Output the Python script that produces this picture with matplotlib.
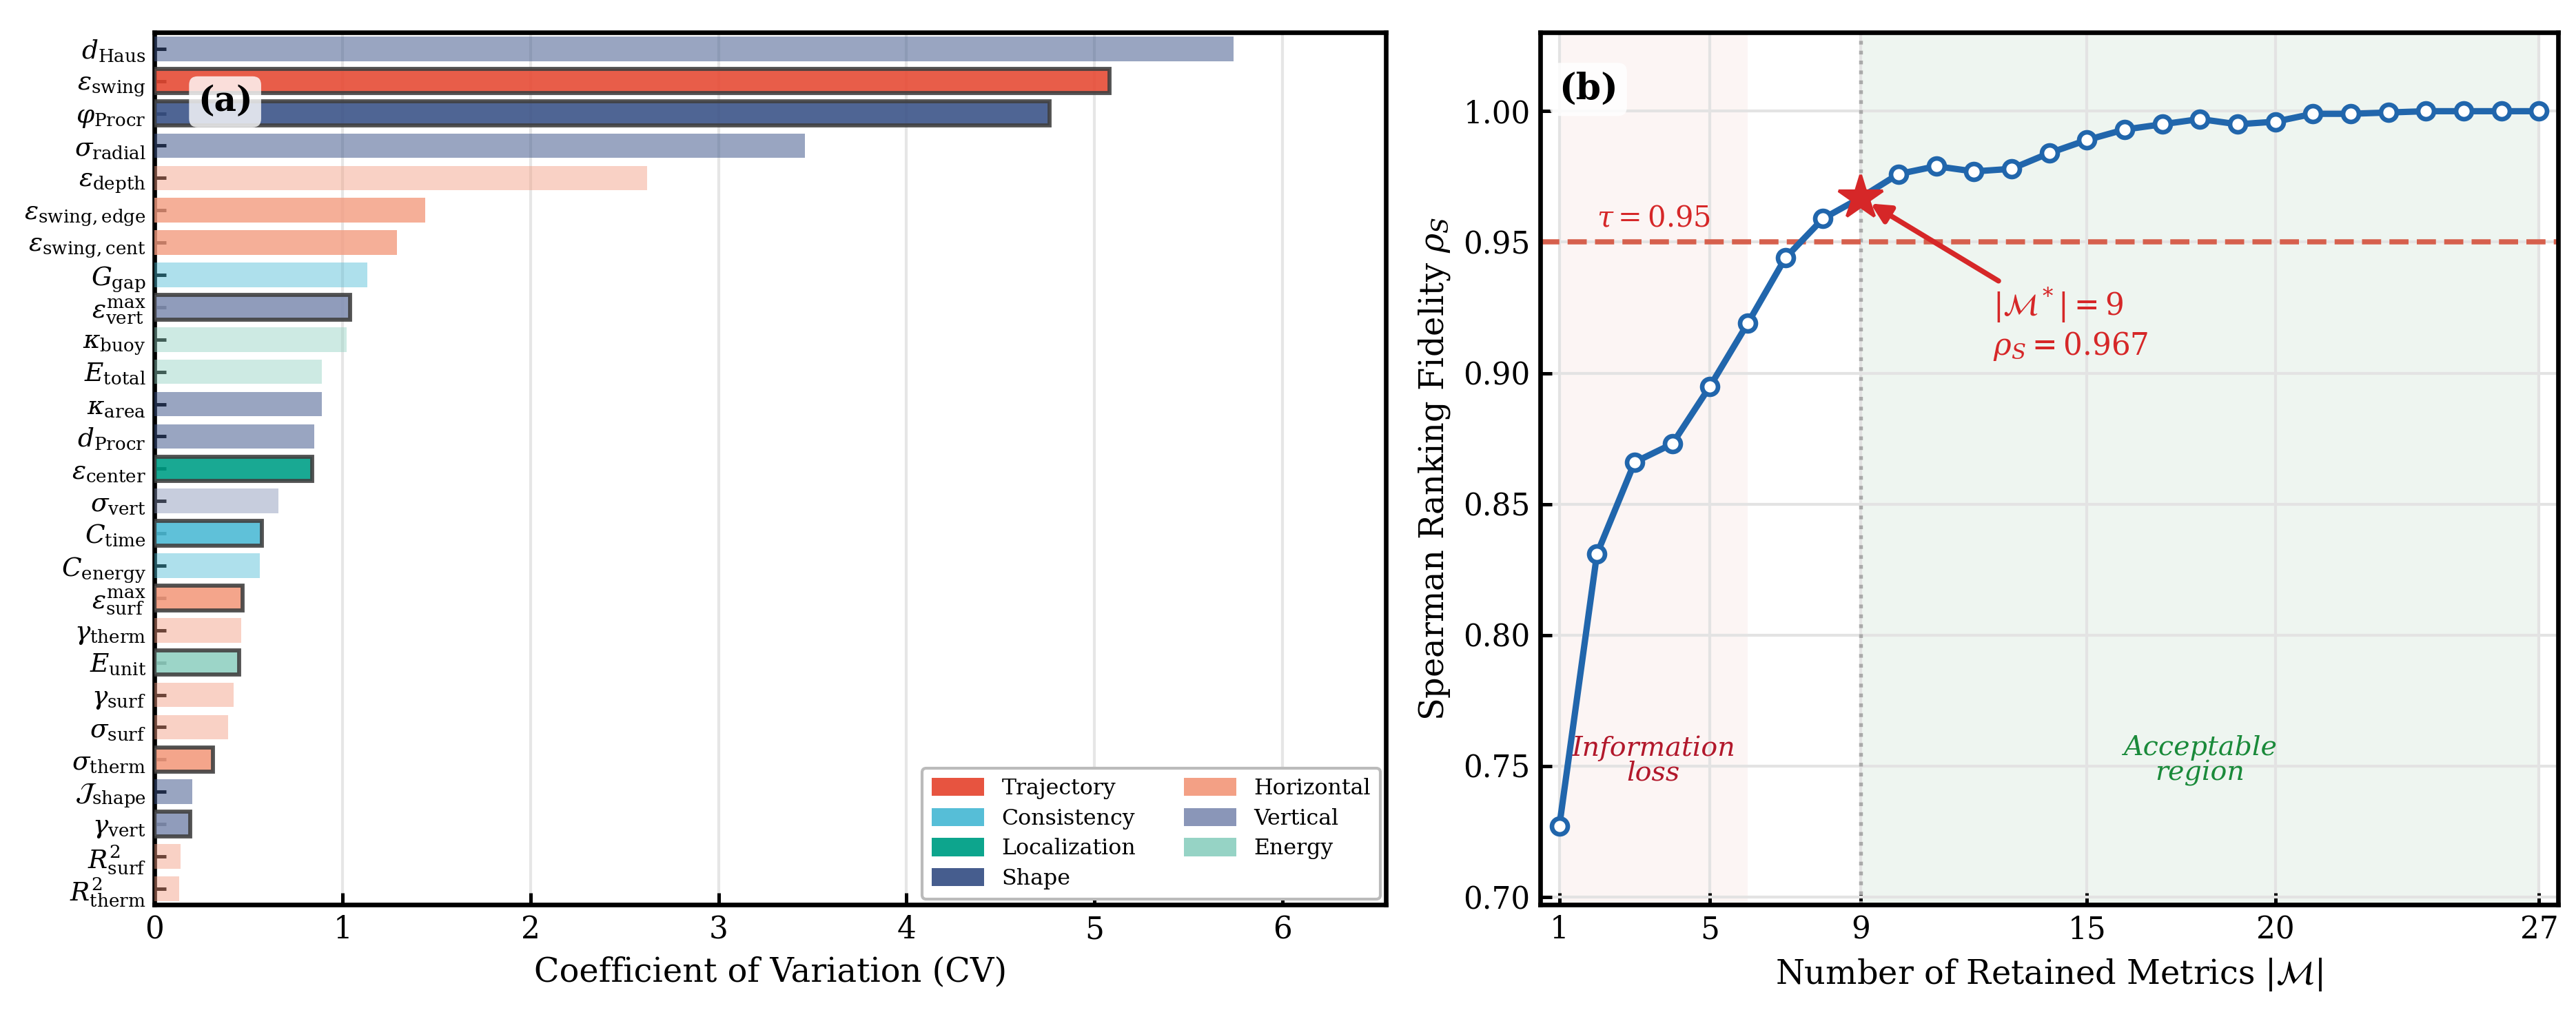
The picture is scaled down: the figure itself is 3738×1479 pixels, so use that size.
import numpy as np
import matplotlib
matplotlib.use("Agg")
import matplotlib.pyplot as plt
from matplotlib.patches import Patch

plt.rcParams['font.family'] = ['DejaVu Serif']
plt.rcParams['mathtext.fontset'] = 'dejavuserif'
plt.rcParams['axes.linewidth'] = 1.6

# ---------------- data: panel (a) ----------------
metric_labels = [
    r'$d_{\mathrm{Haus}}$', r'$\varepsilon_{\mathrm{swing}}$', r'$\varphi_{\mathrm{Procr}}$',
    r'$\sigma_{\mathrm{radial}}$', r'$\varepsilon_{\mathrm{depth}}$', r'$\varepsilon_{\mathrm{swing,edge}}$',
    r'$\varepsilon_{\mathrm{swing,cent}}$', r'$G_{\mathrm{gap}}$', r'$\varepsilon_{\mathrm{vert}}^{\mathrm{max}}$',
    r'$\kappa_{\mathrm{buoy}}$', r'$E_{\mathrm{total}}$', r'$\kappa_{\mathrm{area}}$',
    r'$d_{\mathrm{Procr}}$', r'$\varepsilon_{\mathrm{center}}$', r'$\sigma_{\mathrm{vert}}$',
    r'$C_{\mathrm{time}}$', r'$C_{\mathrm{energy}}$', r'$\varepsilon_{\mathrm{surf}}^{\mathrm{max}}$',
    r'$\gamma_{\mathrm{therm}}$', r'$E_{\mathrm{unit}}$', r'$\gamma_{\mathrm{surf}}$',
    r'$\sigma_{\mathrm{surf}}$', r'$\sigma_{\mathrm{therm}}$', r'$\mathcal{J}_{\mathrm{shape}}$',
    r'$\gamma_{\mathrm{vert}}$', r'$R^2_{\mathrm{surf}}$', r'$R^2_{\mathrm{therm}}$',
]
cv_values = [5.74, 5.08, 4.76, 3.46, 2.62, 1.44, 1.29, 1.13, 1.04, 1.02, 0.89, 0.89, 0.85,
             0.84, 0.66, 0.57, 0.56, 0.47, 0.46, 0.45, 0.42, 0.39, 0.31, 0.20, 0.19, 0.14, 0.13]
metric_group = ['Shape', 'Trajectory', 'Shape', 'Shape', 'Horizontal', 'Horizontal',
                'Horizontal', 'Consistency', 'Vertical', 'Energy', 'Energy', 'Shape',
                'Shape', 'Localization', 'Vertical', 'Consistency', 'Consistency', 'Horizontal',
                'Horizontal', 'Energy', 'Horizontal', 'Horizontal', 'Horizontal', 'Shape',
                'Vertical', 'Horizontal', 'Horizontal']
selected = [0, 1, 1, 0, 0, 0, 0, 0, 1, 0, 0, 0, 0, 1, 0, 1, 0, 1, 0, 1, 0, 0, 1, 0, 1, 0, 0]

# ---------------- data: panel (b) ----------------
n_retained = list(range(1, 28))
rho_s = [0.727, 0.831, 0.866, 0.873, 0.895, 0.919, 0.944, 0.959, 0.967, 0.976, 0.979,
         0.977, 0.978, 0.984, 0.989, 0.993, 0.995, 0.997, 0.995, 0.996, 0.999, 0.999,
         0.9995, 1.000, 1.000, 1.000, 1.000]
tau = 0.95
k_star = 9
rho_star = 0.967

# NPG-like group colours
group_colors = {
    'Trajectory': '#E64B35', 'Consistency': '#4DBBD5', 'Localization': '#00A087',
    'Shape': '#3C5488', 'Horizontal': '#F39B7F', 'Vertical': '#8491B4', 'Energy': '#91D1C2',
}
legend_order = ['Trajectory', 'Consistency', 'Localization', 'Shape',
                'Horizontal', 'Vertical', 'Energy']
mid_tone = {5, 6}   # slightly stronger shade for the two swing sub-metrics

fig = plt.figure(figsize=(12.46, 4.93), dpi=300)
ax1 = fig.add_axes([0.060, 0.112, 0.478, 0.856])
ax2 = fig.add_axes([0.598, 0.112, 0.395, 0.856])

# ================= (a) =================
ypos = np.arange(len(cv_values))
for i, (v, g, s) in enumerate(zip(cv_values, metric_group, selected)):
    if s:
        ax1.barh(ypos[i], v, height=0.76, color=group_colors[g], alpha=0.9,
                 edgecolor='#404040', linewidth=1.4, zorder=3)
    else:
        if i in mid_tone:
            a = 0.8
        elif g == 'Shape':
            a = 0.52
        else:
            a = 0.45
        ax1.barh(ypos[i], v, height=0.76, color=group_colors[g], alpha=a,
                 linewidth=0, zorder=3)
ax1.set_yticks(ypos)
ax1.set_yticklabels(metric_labels, fontsize=9)
ax1.set_ylim(len(cv_values) - 0.5, -0.5)
ax1.set_xlim(0, 6.55)
ax1.set_xticks(range(0, 7))
ax1.tick_params(axis='both', direction='in', length=4, width=1.2, labelsize=10.5)
ax1.tick_params(axis='y', labelsize=9, pad=3)
ax1.set_xlabel('Coefficient of Variation (CV)', fontsize=11.5)
ax1.grid(axis='x', color='#e6e6e6', lw=1.0)
ax1.set_axisbelow(True)

handles = [Patch(facecolor=group_colors[g], alpha=0.95, label=g) for g in legend_order]
ax1.legend(handles=handles, loc='lower right', ncol=2, fontsize=7.6, frameon=True,
           fancybox=True, edgecolor='#bbbbbb', framealpha=1.0, handlelength=2.4,
           handleheight=0.9, columnspacing=2.2, borderpad=0.45, labelspacing=0.4,
           borderaxespad=0.25)
ax1.text(0.035, 0.94, '(a)', transform=ax1.transAxes, fontsize=12, fontweight='bold',
         va='top', ha='left', zorder=5,
         bbox=dict(boxstyle='round,pad=0.25', facecolor='white', edgecolor='none', alpha=0.8))

# ================= (b) =================
ax2.axvspan(1, 6, color='#d6604d', alpha=0.06, lw=0, zorder=0)
ax2.axvspan(k_star, 27, color='#1b7837', alpha=0.07, lw=0, zorder=0)
ax2.axvline(k_star, color='#aaaaaa', ls=':', lw=1.3, zorder=1)
ax2.axhline(tau, color='#d6604d', ls='--', lw=1.8, zorder=2)
ax2.plot(n_retained, rho_s, '-o', color='#2166ac', lw=2.2, ms=5.5, mfc='white',
         mec='#2166ac', mew=1.6, zorder=4)
ax2.plot([k_star], [rho_star], marker='*', ms=16, color='#d62728', zorder=5)

ax2.text(2.0, tau + 0.0035, r'$\tau = 0.95$', color='#d62728', fontsize=10, ha='left', va='bottom')
ax2.annotate(r'$|\mathcal{M}^*| = 9$' + '\n' + r'$\rho_S = 0.967$',
             xy=(k_star, rho_star), xytext=(12.5, 0.933),
             fontsize=10.5, color='#d62728', ha='left', va='top',
             arrowprops=dict(arrowstyle='-|>', color='#d62728', lw=1.8, mutation_scale=14,
                             shrinkA=0, shrinkB=4))
ax2.text(3.5, 0.752, 'Information\nloss', color='#b2182b', fontsize=9.5, style='italic',
         ha='center', va='center', linespacing=0.95)
ax2.text(18.0, 0.752, 'Acceptable\nregion', color='#1a8a3a', fontsize=9.5, style='italic',
         ha='center', va='center', linespacing=0.95)

ax2.set_xlim(0.5, 27.5)
ax2.set_ylim(0.697, 1.03)
ax2.set_xticks([1, 5, 9, 15, 20, 27])
ax2.set_yticks([0.70, 0.75, 0.80, 0.85, 0.90, 0.95, 1.00])
ax2.yaxis.set_major_formatter(matplotlib.ticker.FormatStrFormatter('%.2f'))
ax2.tick_params(axis='both', direction='in', length=4, width=1.2, labelsize=10.5)
ax2.grid(True, color='#e3e3e3', lw=1.0)
ax2.set_axisbelow(True)
ax2.set_xlabel(r'Number of Retained Metrics $|\mathcal{M}|$', fontsize=11.5)
ax2.set_ylabel(r'Spearman Ranking Fidelity $\rho_S$', fontsize=11.5)
ax2.text(0.018, 0.955, '(b)', transform=ax2.transAxes, fontsize=12.5, fontweight='bold',
         va='top', ha='left', zorder=6,
         bbox=dict(boxstyle='round,pad=0.25', facecolor='white', edgecolor='none', alpha=0.85))

fig.savefig('out.png', dpi=300)
